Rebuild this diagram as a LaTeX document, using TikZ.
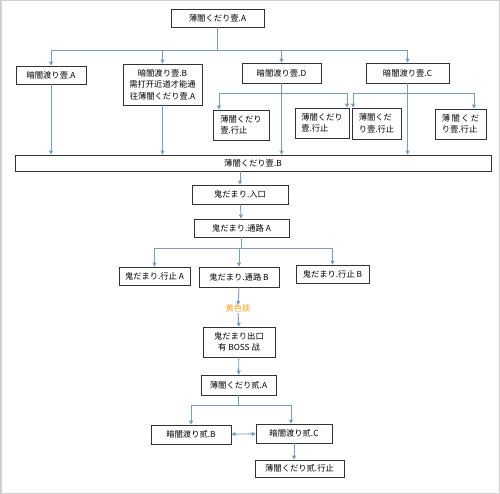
\documentclass[tikz,border=0pt]{standalone}
\usepackage{fontspec}
\setmainfont{Noto Sans CJK SC}
\usetikzlibrary{positioning, arrows.meta}
\definecolor{linkblue}{HTML}{7B9CBE}
\definecolor{lockorange}{HTML}{F2A21E}
\definecolor{framegray}{HTML}{CFCFCF}

\begin{document}
\begin{tikzpicture}[
      x=1pt, y=-1pt,
      every node/.style={font=\fontsize{8.3}{11.5}\selectfont},
      box/.style={draw=black!80, line width=0.7pt, inner sep=1pt,
                  align=center, minimum height=18pt},
      >={Triangle[length=4pt, width=4pt]},
      link/.style={->, draw=linkblue, line width=0.9pt},
    ]
    % frame
    \draw[framegray, line width=1.5pt] (0.75,0.75) rectangle (499.25,493.25);

    % first floor
    \node[box, minimum width=93pt]               (topA) at (217.5, 18)  {薄闇くだり壹.A};
    \node[box, minimum width=70pt]               (dA)   at (51, 75)     {暗闇渡り壹.A};
    \node[box, minimum width=79pt, minimum height=41pt]
                                                 (dB)   at (162.5, 84.5){暗闇渡り壹.B\\需打开近道才能通\\往薄闇くだり壹.A};
    \node[box, minimum width=79pt, minimum height=20pt] (dD) at (281.5, 73) {暗闇渡り壹.D};
    \node[box, minimum width=83pt, minimum height=20pt] (dC) at (407.5, 73) {暗闇渡り壹.C};

    \node[box, minimum width=56pt, minimum height=30pt, align=left] (dead1) at (241, 125)   {薄闇くだり\\壹.行止};
    \node[box, minimum width=54pt, minimum height=30pt, align=left] (dead2) at (322, 123)   {薄闇くだり\\壹.行止};
    \node[box, minimum width=49pt, minimum height=31pt, align=left] (dead3) at (376.5, 123.5){薄闇くだ\\り壹.行止};
    \node[box, minimum width=51pt, minimum height=30pt, align=left] (dead4) at (460.5, 124) {薄\,闇\,く\,だ\\り壹.行止};

    \node[box, minimum width=476pt, minimum height=16pt] (bigB) at (253, 163) {薄闇くだり壹.B};

    % oni-damari
    \node[box, minimum width=96pt, minimum height=19pt] (entr)  at (240, 194.5) {鬼だまり.入口};
    \node[box, minimum width=95pt]                       (pathA) at (241.5, 228) {鬼だまり.通路 A};
    \node[box, minimum width=71pt]                       (endA)  at (154.5, 276) {鬼だまり.行止 A};
    \node[box, minimum width=80pt, minimum height=20pt]  (pathB) at (239, 277)   {鬼だまり.通路 B};
    \node[box, minimum width=73pt]                       (endB)  at (332.5, 274) {鬼だまり.行止 B};
    \node[text=lockorange, inner sep=1pt]                (lock)  at (238, 308)   {黄色锁};
    \node[box, minimum width=72pt, minimum height=30pt]  (exit)  at (239, 342)   {鬼だまり出口\\有 BOSS 战};

    % second floor
    \node[box, minimum width=75pt, minimum height=20pt] (twoA) at (238.5, 385)  {薄闇くだり贰.A};
    \node[box, minimum width=80pt, minimum height=19pt] (twoB) at (191, 434.5)  {暗闇渡り贰.B};
    \node[box, minimum width=76pt, minimum height=19pt] (twoC) at (294, 433.5)  {暗闇渡り贰.C};
    \node[box, minimum width=89pt, minimum height=17pt] (twoE) at (299.5, 468.5){薄闇くだり贰.行止};

    % junctions
    \coordinate (jD) at (282, 93);
    \coordinate (jC) at (408, 93);

    \draw[link] (topA.south) -- ++(0,23) -| (dA.north);
    \draw[link] (topA.south) -- ++(0,23) -| (dB.north);
    \draw[link] (topA.south) -- ++(0,23) -| (dD.north);
    \draw[link] (topA.south) -- ++(0,23) -| (dC.north);

    \draw[link] (dA.south) -- (dA.south |- bigB.north);
    \draw[link] (dB.south) -- (dB.south |- bigB.north);
    \draw[link] (dD.south) -- (dD.south |- bigB.north);
    \draw[link] (dC.south) -- (dC.south |- bigB.north);

    \draw[link] (jD) -| ([xshift=-22pt]dead1.north);
    \draw[link] (jD) -| ([xshift=25pt]dead2.north);
    \draw[link] (jC) -| ([xshift=-23.5pt]dead3.north);
    \draw[link] (jC) -| ([xshift=13.5pt]dead4.north);

    \draw[link] (entr.north |- bigB.south) -- (entr.north);
    \draw[link] (entr) -- (pathA);
    \draw[link] (pathA.south) -- ++(0,11) -| (endA.north);
    \draw[link] (pathA.south) -- ++(0,11) -| (pathB.north);
    \draw[link] (pathA.south) -- ++(0,11) -| (endB.north);

    \draw[link] (pathB.south) -- ([yshift=-2pt]lock.north);
    \draw[link] (lock.south) -- (exit.north);
    \draw[link] (exit) -- (twoA);

    \draw[link] (twoA.south) -- ++(0,10) -| (twoB.north);
    \draw[link] (twoA.south) -- ++(0,10) -| ([xshift=-3pt]twoC.north);
    \draw[link, <->] (twoB) -- (twoC);
    \draw[link] (twoC.south) -- (twoC.south |- twoE.north);
  \end{tikzpicture}
\end{document}
